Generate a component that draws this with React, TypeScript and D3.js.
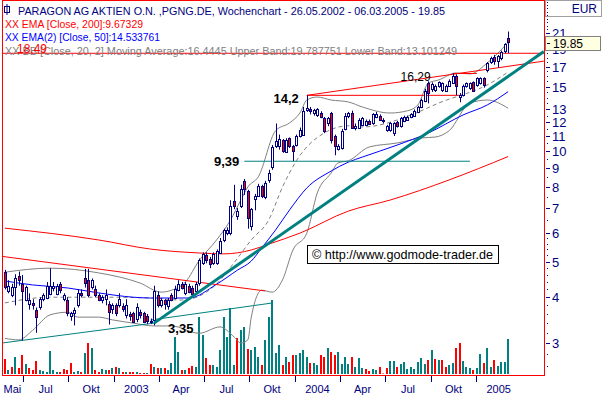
import * as d3 from "d3";

// Wochenkerzen PARAGON AG, ab 26.05.2002 (eine Kerze pro Woche)
const opens = [
  4.70, 4.18, 4.05, 4.27, 4.56, 4.35, 3.93, 3.83, 3.85, 3.69, 3.75, 3.95, 4.00, 4.10, 4.25, 4.10, 4.35, 3.95, 3.93, 3.55,
  3.62, 3.81, 4.10, 4.50, 4.45, 4.25, 4.20, 4.05, 3.93, 3.95, 3.83, 3.70, 3.80, 3.80, 3.78, 3.57, 3.60, 3.63, 3.47, 3.65,
  3.63, 3.55, 3.45, 3.45, 4.05, 3.81, 3.92, 3.78, 4.05, 3.98, 4.20, 4.35, 4.10, 4.30, 4.25, 4.15, 4.35, 4.95, 5.20, 5.10,
  4.95, 4.95, 5.30, 5.71, 5.95, 6.02, 7.33, 6.68, 7.11, 8.31, 7.80, 6.25, 7.40, 7.57, 8.05, 7.50, 8.31, 9.10, 10.35, 10.35,
  10.70, 10.00, 10.85, 10.35, 10.40, 11.00, 11.10, 12.90, 13.00, 12.70, 12.50, 12.75, 12.35, 11.90, 12.70, 11.00, 10.15, 10.20, 11.50, 12.45,
  12.75, 11.55, 11.60, 11.80, 11.80, 12.10, 11.90, 12.40, 12.50, 12.15, 11.40, 11.40, 11.20, 12.00, 11.70, 12.10, 12.20, 12.40, 12.50, 12.80,
  13.20, 13.70, 15.30, 14.70, 14.70, 15.00, 14.60, 14.60, 15.10, 15.40, 16.05, 14.00, 14.20, 15.00, 14.80, 15.40, 15.10, 15.30, 15.80, 16.60,
  17.50, 18.10, 17.60, 17.90, 18.80, 20.40,
];
const highs = [
  4.75, 4.45, 4.35, 4.62, 4.70, 4.60, 4.30, 4.10, 3.95, 3.75, 4.00, 4.10, 4.40, 4.80, 4.40, 4.35, 4.40, 4.10, 4.00, 3.65,
  3.75, 4.20, 4.20, 4.78, 4.78, 4.50, 4.30, 4.10, 4.05, 4.20, 3.90, 3.85, 3.85, 4.10, 3.85, 3.95, 3.65, 3.65, 3.85, 3.70,
  3.65, 3.60, 3.50, 4.30, 4.15, 3.98, 3.95, 3.98, 4.10, 4.30, 4.45, 4.40, 4.40, 4.35, 4.30, 4.40, 5.10, 5.30, 5.30, 5.15,
  5.30, 5.40, 5.80, 6.15, 6.20, 7.35, 8.10, 7.00, 8.10, 8.40, 7.85, 7.00, 7.65, 8.15, 8.10, 8.30, 8.90, 10.40, 11.90, 11.10,
  10.80, 10.85, 10.90, 10.40, 11.10, 11.60, 13.20, 14.20, 13.20, 13.05, 13.10, 12.85, 12.40, 12.40, 12.80, 11.10, 10.45, 11.50, 12.70, 12.80,
  12.90, 11.90, 12.30, 12.40, 12.20, 12.20, 12.70, 12.80, 12.60, 12.30, 11.80, 12.00, 12.00, 12.10, 12.40, 12.50, 12.50, 12.70, 13.00, 13.30,
  13.90, 14.80, 15.50, 15.40, 15.20, 15.50, 15.40, 15.20, 15.70, 16.29, 16.20, 14.40, 15.20, 15.40, 15.40, 15.50, 15.90, 15.90, 15.90, 17.50,
  18.10, 18.30, 18.30, 18.80, 19.70, 21.20,
];
const lows = [
  4.20, 4.10, 4.00, 3.80, 4.30, 3.05, 3.90, 3.70, 3.70, 3.20, 3.70, 3.90, 3.95, 4.05, 4.15, 4.05, 4.10, 3.90, 3.55, 3.45,
  3.35, 3.75, 4.00, 4.25, 4.00, 4.20, 4.00, 3.90, 3.85, 3.80, 3.37, 3.60, 3.55, 3.75, 3.65, 3.50, 3.45, 3.40, 3.42, 3.50,
  3.40, 3.38, 3.38, 3.35, 3.75, 3.75, 3.70, 3.70, 3.90, 3.95, 4.15, 4.20, 4.05, 4.10, 4.05, 4.10, 4.30, 4.90, 4.95, 4.80,
  4.90, 4.90, 5.25, 5.65, 5.90, 5.90, 6.95, 6.50, 7.00, 7.60, 6.15, 6.08, 6.90, 7.50, 7.45, 7.40, 8.20, 8.90, 10.20, 10.10,
  9.90, 9.95, 10.20, 9.40, 10.30, 10.90, 11.00, 12.80, 12.60, 12.50, 12.40, 12.30, 11.20, 11.70, 10.50, 9.75, 10.05, 10.10, 11.40, 12.30,
  11.50, 11.40, 11.50, 11.70, 11.70, 11.80, 11.80, 12.30, 12.10, 11.90, 11.30, 11.30, 11.00, 11.60, 11.60, 12.00, 12.10, 12.30, 12.40, 12.70,
  13.10, 13.60, 13.50, 14.50, 14.50, 14.90, 14.50, 14.50, 15.00, 15.30, 14.20, 13.60, 14.10, 14.90, 14.70, 14.50, 15.00, 15.20, 14.90, 16.40,
  17.30, 17.20, 16.90, 17.70, 18.50, 18.50,
];
const closes = [
  4.27, 4.30, 4.27, 4.52, 4.45, 4.15, 4.27, 3.92, 3.80, 3.53, 3.95, 4.05, 4.30, 4.30, 4.30, 4.30, 4.20, 4.05, 3.63, 3.62,
  3.70, 4.12, 4.05, 4.35, 4.05, 4.45, 4.05, 3.93, 4.00, 4.05, 3.65, 3.80, 3.62, 3.95, 3.70, 3.80, 3.55, 3.43, 3.75, 3.58,
  3.43, 3.45, 3.42, 4.15, 3.81, 3.93, 3.82, 3.93, 3.93, 4.20, 4.35, 4.25, 4.35, 4.15, 4.10, 4.35, 5.04, 5.25, 5.05, 4.95,
  5.25, 5.35, 5.71, 6.08, 6.08, 7.11, 7.11, 6.89, 7.90, 7.90, 6.60, 6.95, 7.55, 8.05, 7.57, 8.20, 8.70, 10.30, 10.68, 10.80,
  10.00, 10.75, 10.35, 10.00, 11.00, 11.40, 12.90, 13.10, 12.85, 12.95, 13.00, 12.40, 11.37, 12.30, 10.70, 10.35, 10.35, 11.37, 12.50, 12.70,
  11.60, 11.73, 12.20, 12.30, 12.10, 11.90, 12.60, 12.60, 12.20, 12.10, 11.70, 11.90, 11.90, 11.70, 12.30, 12.40, 12.40, 12.60, 12.90, 13.20,
  13.75, 14.60, 14.40, 15.20, 15.05, 15.40, 15.30, 15.10, 15.55, 16.05, 15.10, 14.20, 15.05, 15.30, 15.30, 14.60, 15.80, 15.80, 15.10, 17.40,
  18.00, 17.70, 18.20, 18.60, 19.60, 19.85,
];
const volumes = [
  15, 4, 7, 17, 6, 19, 10, 6, 4, 13, 4, 3, 2, 23, 4, 2, 2, 5, 4, 11,
  2, 3, 2, 21, 31, 26, 4, 2, 5, 4, 4, 6, 7, 6, 2, 2, 2, 2, 2, 1,
  1, 1, 10, 7, 6, 6, 6, 4, 11, 37, 22, 4, 4, 6, 8, 7, 57, 39, 16, 9,
  9, 7, 24, 57, 37, 66, 9, 36, 44, 47, 25, 24, 27, 17, 9, 34, 57, 74, 21, 29,
  9, 17, 12, 19, 19, 21, 24, 17, 11, 11, 9, 19, 17, 26, 22, 19, 22, 10, 17, 10,
  17, 7, 16, 6, 5, 3, 5, 4, 7, 0.5, 6, 13, 13, 7, 10, 12, 5, 7, 5, 12,
  16, 10, 14, 24, 15, 14, 14, 7, 9, 11, 26, 31, 13, 7, 6, 4, 6, 20, 11, 26,
  7, 14, 8, 12, 12, 35,
];

const ema200Weeks = [0, 27, 42, 56, 63, 71, 76, 85, 99, 111, 128, 145];
const ema200Values = [6.17, 5.73, 5.41, 5.28, 5.25, 5.38, 5.58, 5.98, 6.87, 7.36, 8.35, 9.67];
const ema50Weeks = [0, 8, 18, 27, 37, 42, 53, 61, 67, 71, 74, 78, 82, 87, 94, 99, 103, 113, 122, 132, 139, 145];
const ema50Values = [4.43, 4.32, 4.24, 4.11, 4.0, 3.98, 3.98, 4.34, 4.74, 5.02, 5.45, 6.1, 6.91, 7.94, 8.83, 9.34, 9.64, 10.39, 11.21, 12.55, 13.37, 14.53];
const bbUpperWeeks = [0, 13, 27, 39, 45, 48, 52, 56, 61, 65, 68, 70, 73, 78, 82, 85, 87, 90, 94, 99, 103, 111, 116, 119, 122, 125, 130, 134, 139, 145];
const bbUpperValues = [4.68, 4.8, 4.66, 4.37, 4.13, 4.18, 4.4, 5.04, 5.73, 6.49, 7.36, 7.99, 8.51, 11.37, 11.94, 12.71, 13.79, 14.05, 13.79, 13.62, 13.2, 12.71, 12.89, 13.37, 15.34, 15.64, 16.34, 16.24, 17.4, 19.79];
const bbLowerWeeks = [0, 4, 8, 13, 18, 21, 27, 31, 37, 43, 48, 56, 62, 66, 68, 70, 71, 74, 77, 80, 83, 87, 90, 94, 96, 99, 105, 113, 120, 124, 128, 134, 139, 145];
const bbLowerValues = [3.09, 3.06, 3.25, 3.58, 3.64, 3.53, 3.53, 3.47, 3.4, 3.34, 3.34, 3.19, 3.32, 3.12, 3.0, 3.06, 3.53, 4.18, 4.13, 4.46, 5.38, 5.98, 7.69, 8.72, 9.29, 9.42, 10.27, 10.53, 10.87, 10.93, 11.37, 13.53, 13.79, 13.1];
const bbMidWeeks = [0, 13, 30, 42, 51, 60, 66, 71, 76, 80, 84, 92, 99, 103, 117, 125, 140, 145];
const bbMidValues = [3.86, 4.0, 4.0, 3.98, 3.93, 4.26, 4.96, 5.73, 6.49, 7.99, 9.42, 11.21, 11.73, 11.64, 12.55, 13.53, 15.34, 16.44];

// Trendlinien: [Woche, Kurs] -> [Woche, Kurs]
const redLines = [
  [[-0.9, 18.49], [155.3, 18.49]],
  [[-0.9, 5.17], [75, 4.16]],
  [[87, 14.2], [155.3, 17.6]],
  [[87, 14.2], [132, 14.2]],
  [[129, 16.29], [136, 16.29]],
];
const tealThinLines = [
  [[69, 9.39], [134, 9.39]],
  [[-0.9, 3.0], [43, 3.4]],
];
const tealThickLine = [[43, 3.4], [155.3, 18.7]];
const volumeTrend = [[42, 54], [77, 71]];

const priceTicks = [3, 4, 5, 6, 7, 8, 9, 10, 11, 12, 13, 15, 17, 19, 21];
const quarterLabels = ["Mai", "Jul", "Okt", "2003", "Apr", "Jul", "Okt", "2004", "Apr", "Jul", "Okt", "2005"];

const WEEK_MS = 7 * 24 * 3600 * 1000;
const firstWeek = new Date(2002, 4, 26);
const weekDate = (i) => new Date(firstWeek.getTime() + i * WEEK_MS);
const font = "Liberation Sans, Arial, sans-serif";
const navy = "#000080";
const teal = "#008080";

export default function App() {
  const width = 603;
  const height = 396;
  const plot = { left: 2, right: 544, top: 0, bottom: 375 };

  const x = d3.scaleTime().domain([weekDate(0), weekDate(145)]).range([4.9, 508.1]);
  const y = d3.scaleLog().domain([2.455, 25.67]).range([375, 1]);
  const yVol = d3.scaleLinear().domain([0, 100]).range([374, 274]);
  const xw = (i) => x(weekDate(i));

  const curve = d3.line().x((d) => xw(d[0])).y((d) => y(d[1])).curve(d3.curveMonotoneX);
  const straight = d3.line().x((d) => xw(d[0])).y((d) => y(d[1]));
  const volLine = d3.line().x((d) => xw(d[0])).y((d) => yVol(d[1]));
  const pairs = (ws, vs) => ws.map((w, i) => [w, vs[i]]);

  const quarterTicks = d3.timeMonth.every(3).range(new Date(2002, 6, 1), new Date(2005, 3, 2));
  const tickDates = quarterTicks.slice(0, 11);
  const labelX = quarterLabels.map((_, k) =>
    k === 0 ? (plot.left + x(quarterTicks[0])) / 2 : (x(quarterTicks[k - 1]) + x(quarterTicks[k])) / 2
  );

  const minorTicks = [...d3.range(2.6, 6, 0.2), ...d3.range(6.5, 25.6, 0.5)].filter(
    (v) => !priceTicks.some((t) => Math.abs(t - v) < 0.05)
  );

  const lastClose = closes[closes.length - 1];

  return (
    <div>
      <style>{"body{margin:0}"}</style>
      <svg width={width} height={height} style={{ display: "block", background: "#fff" }}>
        <defs>
          <clipPath id="plotClip">
            <rect x={plot.left} y={plot.top} width={plot.right - plot.left} height={plot.bottom - plot.top} />
          </clipPath>
        </defs>

        <g clipPath="url(#plotClip)">
          {/* Volumen */}
          {volumes.map((v, i) => {
            const px = Math.round(xw(i));
            const up = i === 0 ? closes[0] >= opens[0] : closes[i] >= closes[i - 1];
            return (
              <rect key={"v" + i} x={px - 1} y={yVol(v)} width={2} height={yVol(0) - yVol(v)} fill={up ? teal : "#ff0000"} />
            );
          })}
          <path d={volLine(volumeTrend)} stroke={teal} strokeWidth={1} fill="none" />

          {/* Bollinger und EMAs */}
          <path d={curve(pairs(bbUpperWeeks, bbUpperValues))} stroke="#808080" fill="none" />
          <path d={curve(pairs(bbLowerWeeks, bbLowerValues))} stroke="#808080" fill="none" />
          <path d={curve(pairs(bbMidWeeks, bbMidValues))} stroke="#808080" strokeDasharray="4,3" fill="none" />
          <path d={curve(pairs(ema200Weeks, ema200Values))} stroke="#ff0000" fill="none" />
          <path d={curve(pairs(ema50Weeks, ema50Values))} stroke="#0000ff" fill="none" />

          {redLines.map((l, k) => (
            <path key={"r" + k} d={straight(l)} stroke="#ff0000" strokeWidth={1} fill="none" />
          ))}
          {tealThinLines.map((l, k) => (
            <path key={"t" + k} d={straight(l)} stroke={teal} strokeWidth={1} fill="none" />
          ))}

          {/* Kerzen */}
          {closes.map((c, i) => {
            const px = Math.round(xw(i));
            const o = opens[i];
            const top = y(Math.max(o, c));
            const bot = y(Math.min(o, c));
            return (
              <g key={"c" + i}>
                <line x1={px + 0.5} x2={px + 0.5} y1={y(highs[i])} y2={y(lows[i])} stroke={navy} />
                <rect
                  x={px - 0.5}
                  y={Math.round(top) + 0.5}
                  width={2}
                  height={Math.max(1, Math.round(bot - top))}
                  fill={c >= o ? "#fff" : "#ff0000"}
                  stroke={navy}
                />
              </g>
            );
          })}

          <path d={straight(tealThickLine)} stroke={teal} strokeWidth={3} fill="none" />
        </g>

        {/* Marken */}
        <text x={xw(43) + 14} y={y(3.35) + 8} fontFamily={font} fontSize={13} fontWeight="bold">3,35</text>
        <text x={xw(69) - 5} y={y(9.39) + 5} textAnchor="end" fontFamily={font} fontSize={13} fontWeight="bold">9,39</text>
        <text x={xw(87) - 8} y={y(14.2) + 8} textAnchor="end" fontFamily={font} fontSize={13} fontWeight="bold">14,2</text>
        <text x={xw(129) - 22} y={y(16.29) + 8} textAnchor="end" fontFamily={font} fontSize={12}>16,29</text>

        <rect x={307.5} y={245.5} width={191} height={18} fill="#fff" stroke="#000" />
        <text x={312} y={259} fontFamily={font} fontSize={13} textLength={181} lengthAdjust="spacingAndGlyphs">
          © http://www.godmode-trader.de
        </text>

        {/* Legende */}
        <rect x={4.5} y={6.5} width={5} height={6} fill="#fff" stroke={navy} />
        <line x1={7} x2={7} y1={4} y2={15} stroke={navy} />
        <text x={18} y={15} fontFamily={font} fontSize={11} fill={navy} textLength={427} lengthAdjust="spacingAndGlyphs">
          PARAGON AG AKTIEN O.N. ,PGNG.DE, Wochenchart - 26.05.2002 - 06.03.2005 - 19.85
        </text>
        <text x={5} y={28} fontFamily={font} fontSize={11} fill="#ff0000" textLength={138} lengthAdjust="spacingAndGlyphs">
          XX EMA [Close, 200]:9.67329
        </text>
        <text x={5} y={41} fontFamily={font} fontSize={11} fill="#0000ff" textLength={155} lengthAdjust="spacingAndGlyphs">
          XX EMA(2) [Close, 50]:14.533761
        </text>
        <text x={5} y={55} fontFamily={font} fontSize={11} fill="#808080" textLength={452} lengthAdjust="spacingAndGlyphs">
          XX BB [Close, 20, 2] Moving Average:16.4445 Upper Band:19.787751 Lower Band:13.101249
        </text>
        <text x={17} y={53} fontFamily={font} fontSize={12} fill="#ff0000">18.49</text>

        {/* Rahmen */}
        <rect x={plot.left + 0.5} y={0.5} width={plot.right - plot.left} height={plot.bottom} fill="none" stroke="#ff0000" />

        {/* Kursachse rechts */}
        <rect x={545.5} y={0.5} width={56} height={16} fill="#fff" stroke="#a0a0a0" />
        <text x={597} y={13} textAnchor="end" fontFamily={font} fontSize={12} fill={navy}>EUR</text>
        {minorTicks.map((v, k) => (
          <rect key={"m" + k} x={547} y={Math.round(y(v))} width={1} height={1} fill={navy} />
        ))}
        {priceTicks.map((v) => (
          <g key={"p" + v}>
            <line x1={546} x2={550} y1={Math.round(y(v)) + 0.5} y2={Math.round(y(v)) + 0.5} stroke={navy} />
            <text x={552} y={y(v) + 5} fontFamily={font} fontSize={13} fill={navy}>{v}</text>
          </g>
        ))}
        <rect x={545.5} y={Math.round(y(lastClose)) - 5.5} width={55} height={14} fill="#ffffe1" stroke="#808080" />
        <line x1={547} x2={550} y1={Math.round(y(lastClose)) + 1.5} y2={Math.round(y(lastClose)) + 1.5} stroke="#000" />
        <text x={553} y={y(lastClose) + 6} fontFamily={font} fontSize={12} fill="#000">{lastClose.toFixed(2)}</text>

        {/* Zeitachse */}
        {tickDates.map((d, k) => (
          <line key={"xt" + k} x1={Math.round(x(d)) + 0.5} x2={Math.round(x(d)) + 0.5} y1={376} y2={382} stroke={navy} />
        ))}
        {quarterLabels.map((l, k) => (
          <text key={"xl" + k} x={labelX[k]} y={393} textAnchor="middle" fontFamily={font} fontSize={11} fill={navy}>
            {l}
          </text>
        ))}
      </svg>
    </div>
  );
}
